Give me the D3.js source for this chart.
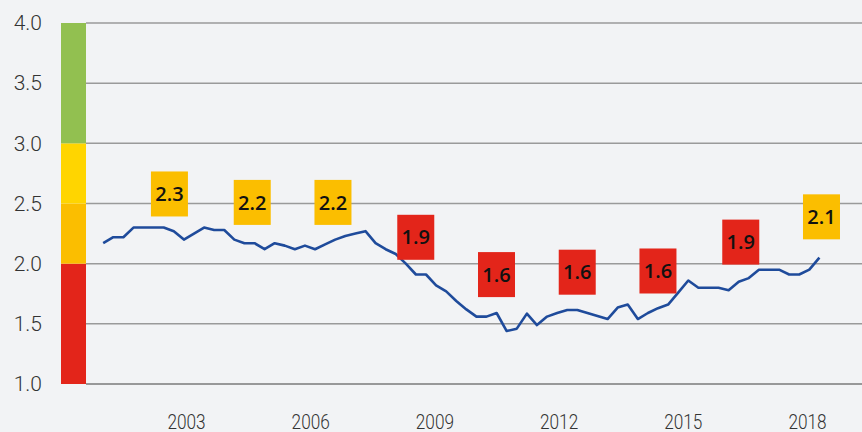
<!DOCTYPE html>
<html>
<head>
<meta charset="utf-8">
<script src="https://cdn.jsdelivr.net/npm/d3@7"></script>
<style>
  html, body { margin: 0; padding: 0; background: #f2f3f5; }
  svg { display: block; font-family: Roboto, "Noto Sans", sans-serif; }
</style>
</head>
<body>
<div id="container"></div>
<script>
/* CONSTANTS AND GLOBALS */
const width = 862,
  height = 432,
  margin = { top: 23, bottom: 48, left: 86, right: 0 };

// quarterly-ish index values, first point 2001, last point 2018.3
const seriesStart = 2001.0,
  seriesEnd = 2018.3;
const values = [
  2.17, 2.22, 2.22, 2.30, 2.30, 2.30, 2.30, 2.27, 2.20, 2.25,
  2.30, 2.28, 2.28, 2.20, 2.17, 2.17, 2.12, 2.17, 2.15, 2.12,
  2.15, 2.12, 2.16, 2.20, 2.23, 2.25, 2.27, 2.17, 2.12, 2.08,
  2.00, 1.91, 1.91, 1.82, 1.77, 1.69, 1.62, 1.56, 1.56, 1.59,
  1.44, 1.46, 1.585, 1.49, 1.56, 1.59, 1.615, 1.615, 1.59, 1.565,
  1.54, 1.635, 1.66, 1.54, 1.59, 1.63, 1.66, 1.76, 1.86, 1.80,
  1.80, 1.80, 1.78, 1.85, 1.88, 1.95, 1.95, 1.95, 1.91, 1.91,
  1.95, 2.05
];

// two-year averages shown in the boxes
const periodMid = [2002.6, 2004.6, 2006.55, 2008.55, 2010.5, 2012.45, 2014.4, 2016.4, 2018.35];
const periodAvg = [2.28, 2.21, 2.21, 1.92, 1.61, 1.63, 1.64, 1.88, 2.09];

// rating bands on the left bar
const bandFrom = [1.0, 2.0, 2.5, 3.0];
const bandTo = [2.0, 2.5, 3.0, 4.0];
const bandColors = ["#e3251a", "#fbbe00", "#ffd500", "#92c050"];

const yTicks = [1.0, 1.5, 2.0, 2.5, 3.0, 3.5, 4.0];
const xTicks = [2003, 2006, 2009, 2012, 2015, 2018];

const data = values.map((v, i) => ({
  year: seriesStart + i * (seriesEnd - seriesStart) / (values.length - 1),
  value: v
}));

/* SCALES */
const yScale = d3.scaleLinear()
  .domain([1, 4])
  .range([384, margin.top]);

const xScale = d3.scaleLinear()
  .domain([2003, 2018])
  .range([186, 807]);

const bandColor = v => bandColors[bandFrom.findIndex((f, i) => v >= f && v < bandTo[i])];

const svg = d3.select("#container").append("svg")
  .attr("width", width)
  .attr("height", height);

svg.append("rect")
  .attr("width", width)
  .attr("height", height)
  .attr("fill", "#f2f3f5");

// gridlines
svg.append("g")
  .selectAll("line")
  .data(yTicks)
  .join("line")
  .attr("x1", margin.left)
  .attr("x2", width)
  .attr("y1", d => yScale(d))
  .attr("y2", d => yScale(d))
  .attr("stroke", d => d === 1 ? "#7a7a7a" : "#9a9a9a")
  .attr("stroke-width", 1.5);

// colour bar
svg.append("g")
  .selectAll("rect")
  .data(bandFrom)
  .join("rect")
  .attr("x", 61)
  .attr("width", 25)
  .attr("y", (d, i) => yScale(bandTo[i]))
  .attr("height", (d, i) => yScale(d) - yScale(bandTo[i]))
  .attr("fill", (d, i) => bandColors[i]);

// y axis
const yAxis = d3.axisLeft(yScale)
  .tickValues(yTicks)
  .tickFormat(d3.format(".1f"))
  .tickSize(0)
  .tickPadding(0);

svg.append("g")
  .attr("transform", "translate(42,0)")
  .call(yAxis)
  .call(g => g.select(".domain").remove())
  .selectAll("text")
  .attr("font-family", "Roboto, sans-serif")
  .attr("font-weight", 300)
  .attr("font-size", 21)
  .attr("fill", "#333");

// x axis
const xAxis = d3.axisBottom(xScale)
  .tickValues(xTicks)
  .tickFormat(d3.format("d"))
  .tickSize(0)
  .tickPadding(0);

svg.append("g")
  .attr("transform", "translate(0,414)")
  .call(xAxis)
  .call(g => g.select(".domain").remove())
  .selectAll("text")
  .attr("font-family", "Roboto, sans-serif")
  .attr("font-weight", 300)
  .attr("font-size", 21)
  .attr("fill", "#333")
  .attr("transform", "scale(0.82,1)");

// line
const line = d3.line()
  .x(d => xScale(d.year))
  .y(d => yScale(d.value));

svg.append("path")
  .datum(data)
  .attr("d", line)
  .attr("fill", "none")
  .attr("stroke", "#1f4b9b")
  .attr("stroke-width", 2.6)
  .attr("stroke-linejoin", "round");

// average boxes
const boxW = 37, boxH = 45, boxOffset = 36;
const boxes = svg.append("g")
  .selectAll("g")
  .data(periodAvg)
  .join("g")
  .attr("transform", (d, i) => `translate(${xScale(periodMid[i])},${yScale(d) - boxOffset})`);

boxes.append("rect")
  .attr("x", -boxW / 2)
  .attr("y", -boxH / 2)
  .attr("width", boxW)
  .attr("height", boxH)
  .attr("fill", d => bandColor(d));

boxes.append("text")
  .attr("text-anchor", "middle")
  .attr("dy", "0.36em")
  .attr("font-family", "'Open Sans', sans-serif")
  .attr("font-weight", 600)
  .attr("font-size", 20)
  .attr("fill", "#111")
  .text(d => d3.format(".1f")(d));
</script>
</body>
</html>
